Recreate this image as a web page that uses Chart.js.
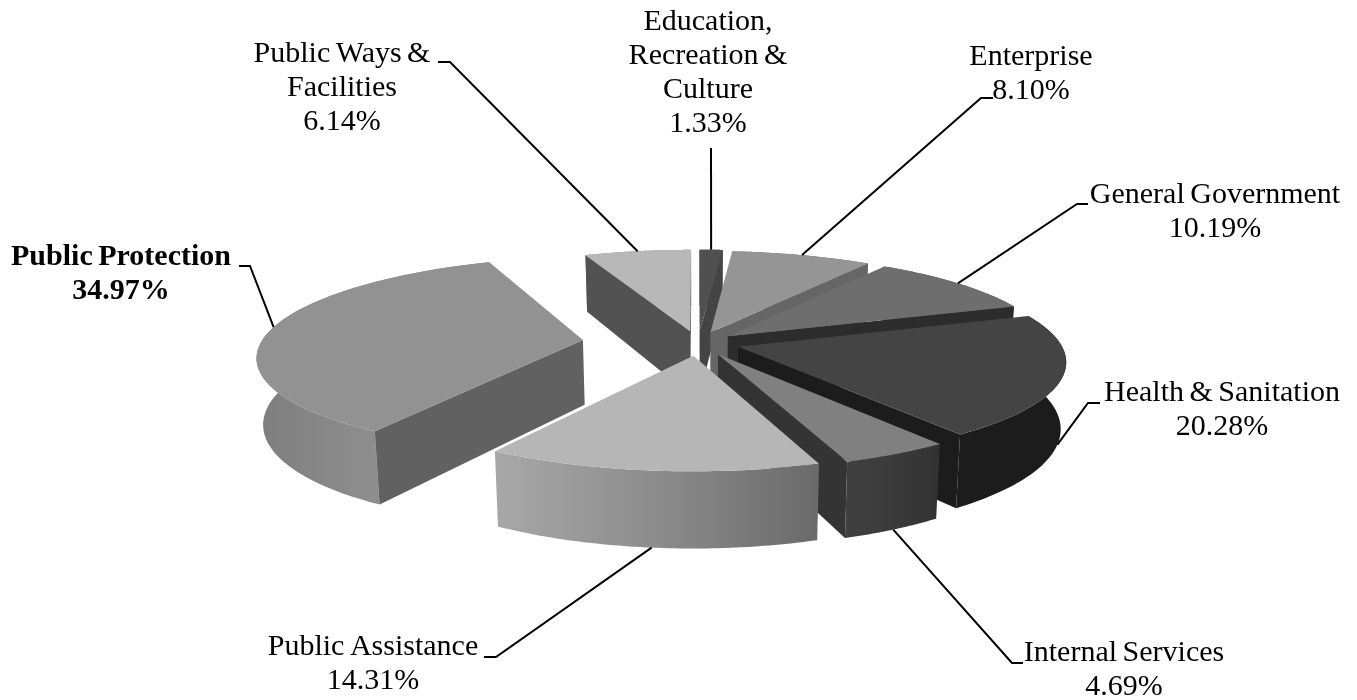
<!DOCTYPE html>
<html>
<head>
<meta charset="utf-8">
<title>Budget by function</title>
<script src="https://cdn.jsdelivr.net/npm/chart.js@4"></script>
<style>
html, body { margin: 0; padding: 0; background: #fff; }
canvas { display: block; }
</style>
</head>
<body>
<canvas id="pieChart" width="1357" height="700"></canvas>
<script>
// data
const categories = ["Education, Recreation & Culture", "Enterprise", "General Government", "Health & Sanitation",
    "Internal Services", "Public Assistance", "Public Protection", "Public Ways & Facilities"];
const shares = [1.33, 8.10, 10.19, 20.28, 4.69, 14.31, 34.97, 6.14];

// styles
const topColors = ["#505050", "#959595", "#6e6e6e", "#444444", "#808080", "#b6b6b6", "#929292", "#b8b8b8"];
const cutColors = ["#444444", "#666666", "#2c2c2c", "#1c1c1c", "#343434", "#555555", "#616161", "#525252"];
const rimLeft = ["#444444", "#777777", "#444444", "#1c1c1c", "#404040", "#a8a8a8", "#7e7e7e", "#8a8a8a"];
const rimMid = ["#444444", "#777777", "#444444", "#1c1c1c", "#3a3a3a", "#8c8c8c", "#8e8e8e", "#8a8a8a"];
const rimRight = ["#444444", "#777777", "#444444", "#1c1c1c", "#323232", "#6a6a6a", "#808080", "#8a8a8a"];
const explode = [42, 38, 38, 42, 42, 42, 116, 42];

// label layout
const labelLines = [["Education,", "Recreation &", "Culture"], ["Enterprise"], ["General Government"], ["Health & Sanitation"],
    ["Internal Services"], ["Public Assistance"], ["Public Protection"], ["Public Ways &", "Facilities"]];
const labelX = [708, 1031, 1215, 1222, 1124, 373, 121, 342];
const labelY = [22, 57, 195, 393, 653, 647, 257, 54];
const leaderStart = [[711, 148], [993, 98], [1088, 204], [1100, 403], [1023, 663], [484, 657], [239, 266], [438, 62]];
const leaderElbow = [[711, 148], [981, 98], [1077, 204], [1088, 403], [1012, 663], [496, 657], [250, 266], [450, 62]];
const leaderDeg = [0, 0, 0, 0, 0, 0, 3, 0];
const leaderLow = [false, false, false, true, true, true, false, false];

// fake perspective for the pie plane
const VIEW_DIST = 2300, HORIZON = -340, DEPTH = 65, LOW_SHRINK = 0.985;

function project(arc, px, py, low) {
    let s = 1 / (1 - py / VIEW_DIST);
    let y = HORIZON + (arc.y - HORIZON) * s;
    if (low) return [arc.x + px * s * LOW_SHRINK, y + DEPTH * s];
    return [arc.x + px * s, y];
}

function planePoint(arc, angle) {
    let mid = (arc.startAngle + arc.endAngle) / 2;
    let off = arc.options.offset;
    return [off * Math.cos(mid) + arc.outerRadius * Math.cos(angle), off * Math.sin(mid) + arc.outerRadius * Math.sin(angle)];
}

function apexPoint(arc) {
    let mid = (arc.startAngle + arc.endAngle) / 2;
    return [arc.options.offset * Math.cos(mid), arc.options.offset * Math.sin(mid)];
}

function fillPoly(ctx, pts, fill) {
    ctx.beginPath();
    pts.forEach((p, i) => i ? ctx.lineTo(p[0], p[1]) : ctx.moveTo(p[0], p[1]));
    ctx.closePath();
    ctx.fillStyle = fill;
    ctx.fill();
}

function drawCut(ctx, arc, angle, color) {
    let a = apexPoint(arc), b = planePoint(arc, angle);
    let q = [project(arc, a[0], a[1], false), project(arc, b[0], b[1], false),
        project(arc, b[0], b[1], true), project(arc, a[0], a[1], true)];
    let area = 0;
    q.forEach((p, i) => {
        let n = q[(i + 1) % 4];
        area += p[0] * n[1] - n[0] * p[1];
    });
    // only walls facing the viewer; side decides the winding
    let facing = angle === arc.startAngle ? area < 0 : area > 0;
    if (facing) fillPoly(ctx, q, color);
}

function drawSlice(ctx, arc, i) {
    let steps = 60, upper = [], lower = [];
    for (let k = 0; k <= steps; k++) {
        let ang = arc.startAngle + (arc.endAngle - arc.startAngle) * k / steps;
        let p = planePoint(arc, ang);
        upper.push(project(arc, p[0], p[1], false));
        lower.push(project(arc, p[0], p[1], true));
    }
    let xs = upper.map(p => p[0]);
    let grad = ctx.createLinearGradient(Math.min(...xs), 0, Math.max(...xs), 0);
    grad.addColorStop(0, rimLeft[i]);
    grad.addColorStop(0.5, rimMid[i]);
    grad.addColorStop(1, rimRight[i]);
    fillPoly(ctx, upper.concat(lower.slice().reverse()), grad);

    drawCut(ctx, arc, arc.startAngle, cutColors[i]);
    drawCut(ctx, arc, arc.endAngle, cutColors[i]);

    let a = apexPoint(arc);
    fillPoly(ctx, [project(arc, a[0], a[1], false)].concat(upper), arc.options.backgroundColor);
}

const pie3d = {
    id: "pie3d",
    beforeDatasetsDraw(chart) {
        let ctx = chart.ctx;
        let arcs = chart.getDatasetMeta(0).data;
        let order = arcs.map((a, i) => i).sort((p, q) => {
            let mp = (arcs[p].startAngle + arcs[p].endAngle) / 2;
            let mq = (arcs[q].startAngle + arcs[q].endAngle) / 2;
            return Math.sin(mp) - Math.sin(mq);
        });
        ctx.save();
        order.forEach(i => drawSlice(ctx, arcs[i], i));
        ctx.restore();
        return false;
    },
    afterDraw(chart) {
        let ctx = chart.ctx;
        let arcs = chart.getDatasetMeta(0).data;
        ctx.save();
        ctx.strokeStyle = "#000";
        ctx.lineWidth = 2;
        arcs.forEach((arc, i) => {
            let ang = (arc.startAngle + arc.endAngle) / 2 + leaderDeg[i] * Math.PI / 180;
            let p = planePoint(arc, ang);
            let end = project(arc, p[0], p[1], leaderLow[i]);
            ctx.beginPath();
            ctx.moveTo(leaderStart[i][0], leaderStart[i][1]);
            ctx.lineTo(leaderElbow[i][0], leaderElbow[i][1]);
            ctx.lineTo(end[0], end[1]);
            ctx.stroke();
        });
        ctx.fillStyle = "#000";
        ctx.textAlign = "center";
        ctx.textBaseline = "middle";
        ctx.wordSpacing = "-2px";
        categories.forEach((c, i) => {
            ctx.font = (c === "Public Protection" ? "bold " : "") + "30px 'Liberation Serif'";
            let lines = labelLines[i].concat(shares[i].toFixed(2) + "%");
            lines.forEach((t, k) => ctx.fillText(t, labelX[i], labelY[i] + k * 34));
        });
        ctx.restore();
    }
};

new Chart(document.getElementById("pieChart"), {
    type: "pie",
    data: {
        labels: categories,
        datasets: [{
            data: shares,
            backgroundColor: topColors,
            offset: explode,
            borderWidth: 0,
            radius: 322
        }]
    },
    options: {
        responsive: false,
        animation: false,
        layout: { padding: { left: 39, bottom: 14 } },
        plugins: { legend: { display: false }, tooltip: { enabled: false } }
    },
    plugins: [pie3d]
});
</script>
</body>
</html>
